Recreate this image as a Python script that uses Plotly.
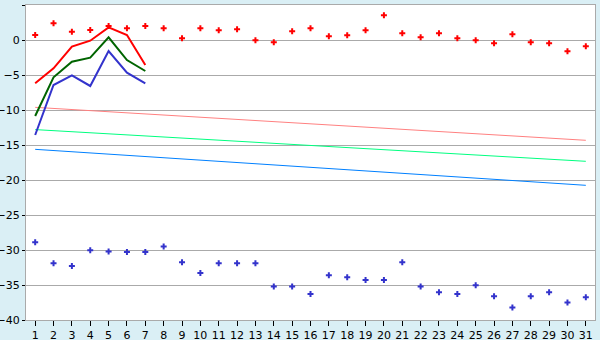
import plotly.graph_objects as go

days = list(range(1, 32))
red_pts = [0.71, 2.38, 1.19, 1.43, 2.0, 1.67, 2.0, 1.67, 0.24, 1.67, 1.38, 1.52, -0.05, -0.33, 1.24, 1.67,
           0.52, 0.67, 1.38, 3.52, 0.95, 0.38, 0.95, 0.24, -0.05, -0.48, 0.81, -0.33, -0.48, -1.62, -0.9]
blue_pts = [-28.9, -31.9, -32.3, -30.05, -30.2, -30.3, -30.3, -29.5, -31.76, -33.3, -31.9, -31.9, -31.9, -35.2,
            -35.2, -36.3, -33.6, -33.9, -34.3, -34.3, -31.76, -35.2, -36.05, -36.3, -35.05, -36.6, -38.2, -36.6,
            -36.05, -37.5, -36.76]
line_days = [1, 2, 3, 4, 5, 6, 7]
red_line = [-6.19, -4.05, -0.95, -0.1, 1.8, 0.71, -3.57]
green_line = [-10.86, -5.33, -3.1, -2.52, 0.38, -2.86, -4.43]
blue_line = [-13.57, -6.43, -5.05, -6.57, -1.57, -4.67, -6.19]
trend_days = [1, 31]
pink_trend = [-9.62, -14.33]
green_trend = [-12.8, -17.33]
blue_trend = [-15.62, -20.76]

fig = go.Figure()
for y, c in [(pink_trend, "#FF8080"), (green_trend, "#00FF80"), (blue_trend, "#0080FF")]:
    fig.add_trace(go.Scatter(x=trend_days, y=y, mode="lines", line=dict(color=c, width=1)))
for y, c in [(red_line, "#FF0000"), (green_line, "#006400"), (blue_line, "#3333CC")]:
    fig.add_trace(go.Scatter(x=line_days, y=y, mode="lines", line=dict(color=c, width=2)))
fig.add_trace(go.Scatter(x=days, y=red_pts, mode="markers",
                         marker=dict(symbol="cross", size=5, color="#FF0000", line=dict(width=0))))
fig.add_trace(go.Scatter(x=days, y=blue_pts, mode="markers",
                         marker=dict(symbol="cross", size=5, color="#3333CC", line=dict(width=0))))

fig.update_layout(
    width=600, height=340,
    margin=dict(l=26, r=5, t=5, b=20, autoexpand=False),
    paper_bgcolor="#DAEFF5", plot_bgcolor="#FFFFFF",
    showlegend=False,
    font=dict(family="DejaVu Sans", size=11, color="#000000"),
)
fig.update_xaxes(range=[0.5, 31.5], tickmode="array", tickvals=days, ticktext=[str(d) for d in days],
                 showgrid=False, zeroline=False, showline=True, linecolor="#AAAAAA", linewidth=1, mirror=True,
                 ticks="outside", ticklen=5, tickcolor="#000000", automargin=False)
fig.update_yaxes(range=[-40, 5], tickmode="array", tickvals=list(range(-40, 6, 5)),
                 showgrid=True, gridcolor="#AAAAAA", gridwidth=1, zeroline=False,
                 showline=True, linecolor="#AAAAAA", linewidth=1, mirror=True,
                 ticks="outside", ticklen=3, tickcolor="#000000", automargin=False)

fig.write_html("out.html")
